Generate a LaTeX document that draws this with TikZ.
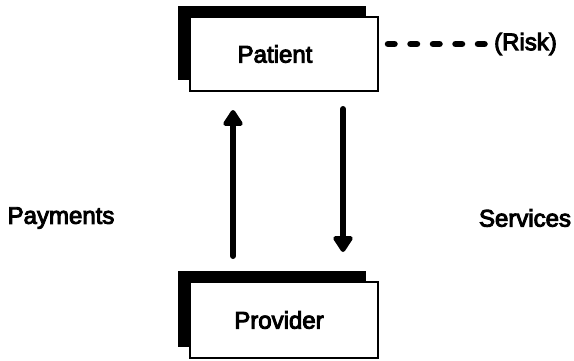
\documentclass[tikz,border=0pt]{standalone}
\usepackage{fontspec}
\setmainfont{Liberation Sans}[FakeBold=4]
\usetikzlibrary{arrows.meta,shadows}
\begin{document}
\begin{tikzpicture}[x=1pt,y=-1pt,
  every node/.style={font=\fontsize{24}{28}\selectfont},
  party/.style={draw=black, line width=2pt, fill=white, minimum width=188pt, minimum height=74pt, inner sep=0pt,
    drop shadow={shadow xshift=-12pt, shadow yshift=11pt, fill=black, opacity=1}},
  flow/.style={line width=6pt, line cap=round, -{Triangle[width=22pt,length=18pt,round]}},
  risk/.style={line width=6.5pt, line cap=round, dash pattern=on 6.5pt off 16pt}
]
\useasboundingbox (0,0) rectangle (574,360);
\node[party, label={[xshift=-9pt]center:Patient}] (patient) at (284,54) {};
\node[party, minimum height=76pt, label={[xshift=-5pt]center:Provider}] (provider) at (284,320) {};
\node[inner sep=0pt, anchor=west] (riskl) at (494,44) {(Risk)};
\node (pay) at (61,218) {Payments};
\node (serv) at (525,218) {Services};
\coordinate (riskstart) at ([xshift=9pt,yshift=10pt]patient.east);
\draw[risk, shorten >=9pt] (riskstart) -- (riskl.west);
\draw[flow] ([xshift=-51pt,yshift=25pt]provider.north) -- ([xshift=-51pt,yshift=-18pt]patient.south);
\draw[flow] ([xshift=59pt,yshift=-17pt]patient.south) -- ([xshift=59pt,yshift=29pt]provider.north);
\end{tikzpicture}
\end{document}
